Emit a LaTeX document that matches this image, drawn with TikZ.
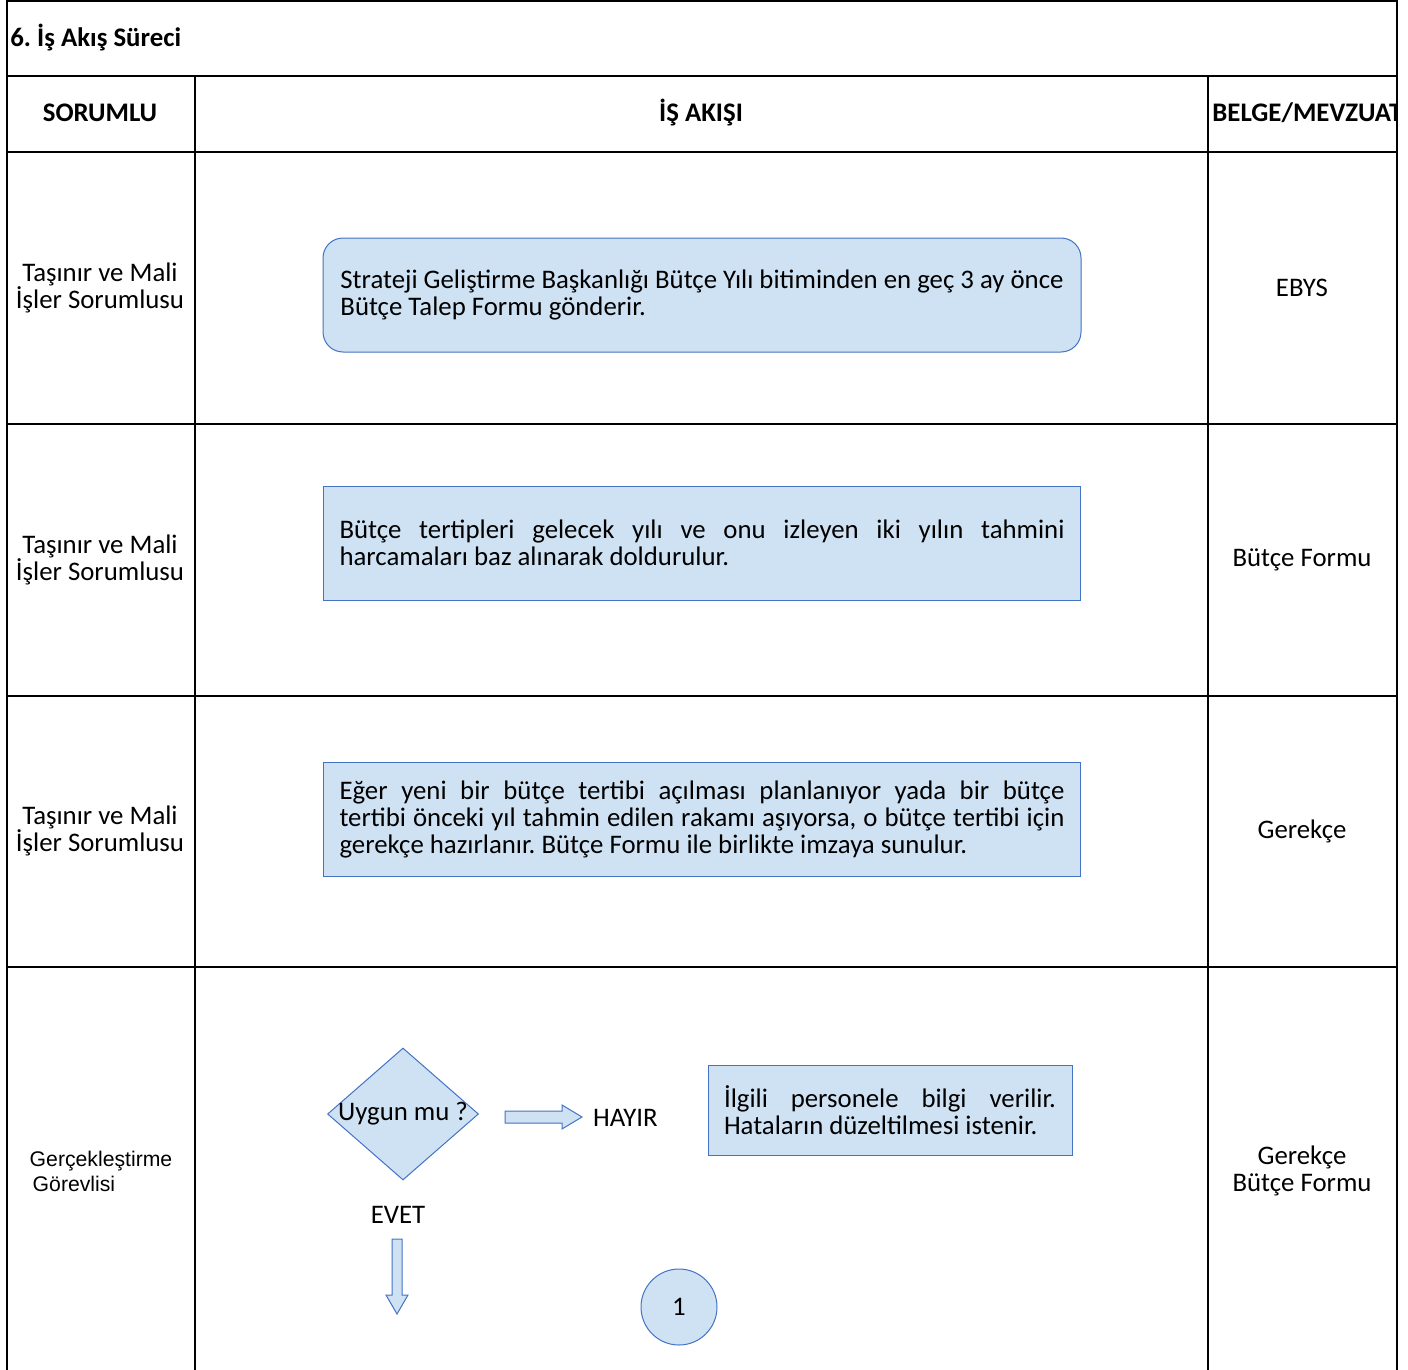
\documentclass[tikz,border=0pt]{standalone}
\usepackage{fontspec}
\setmainfont{Carlito}
\newfontfamily\arialfont{Liberation Sans}
\usetikzlibrary{shapes.geometric}
\definecolor{kutumavi}{RGB}{207,226,243}
\definecolor{cizgimavi}{RGB}{68,114,196}
\hyphenpenalty=10000
\exhyphenpenalty=10000
\frenchspacing

\begin{document}
\begin{tikzpicture}[x=0.5pt, y=-0.5pt,
  every node/.style={font=\fontsize{13.4}{13.5}\selectfont},
  tablo/.style={line width=1pt},
  baslik/.style={font=\fontsize{13.4}{13.5}\selectfont\bfseries},
  kutu/.style={draw=cizgimavi, fill=kutumavi, line width=0.5pt, inner xsep=8pt,
    minimum height=57pt, text width=362.5pt, align=justify},
  blokok/.style={draw=cizgimavi, fill=kutumavi, line width=0.5pt}]

  \useasboundingbox (0, 0) rectangle (1408, 1370);

  % tablo
  \draw[tablo] (7, 1370) -- (7, 1) -- (1397, 1) -- (1397, 1370);
  \foreach \yy in {76, 152, 424, 696, 967} {
    \draw[tablo] (7, \yy) -- (1397, \yy);
  }
  \foreach \xx in {195, 1208} {
    \draw[tablo] (\xx, 76) -- (\xx, 1370);
  }

  \node[baslik, anchor=west, inner xsep=1pt] (baslik) at (8, 38) {6. İş Akış Süreci};
  \node[baslik] (sorumlu) at (100, 113) {SORUMLU};
  \node[baslik] (isakisi) at (701, 113) {İŞ AKIŞI};
  \begin{scope}
    \clip (1208, 76) rectangle (1397, 152);
    \node[baslik, anchor=west, inner xsep=2pt] (belge) at (1208, 113) {BELGE/MEVZUAT};
  \end{scope}

  % sorumlu sutunu
  \node[align=center] (sor1) at (100, 288) {Taşınır ve Mali\\İşler Sorumlusu};
  \node[align=center] (sor2) at (100, 560) {Taşınır ve Mali\\İşler Sorumlusu};
  \node[align=center] (sor3) at (100, 831) {Taşınır ve Mali\\İşler Sorumlusu};
  \node[align=left, font=\arialfont\fontsize{10.6}{12.5}\selectfont] (sor4) at (101, 1171)
    {Gerçekleştirme\\\hspace*{1.5pt}Görevlisi};

  % is akisi
  \node[kutu, text width=, minimum width=379pt, align=left, rounded corners=10pt] (talep) at (702, 295)
    {Strateji Geliştirme Başkanlığı Bütçe Yılı bitiminden en geç 3 ay önce\\Bütçe Talep Formu gönderir.};
  \node[kutu] (tertip) at (702, 543)
    {Bütçe tertipleri gelecek yılı ve onu izleyen iki yılın tahmini\linebreak harcamaları baz alınarak doldurulur.};
  \node[kutu] (gerekce) at (702, 819)
    {Eğer yeni bir bütçe tertibi açılması planlanıyor yada bir bütçe\linebreak tertibi önceki yıl tahmin edilen rakamı aşıyorsa, o bütçe tertibi için\linebreak gerekçe hazırlanır. Bütçe Formu ile birlikte imzaya sunulur.};

  \node[diamond, draw=cizgimavi, fill=kutumavi, line width=0.5pt, inner sep=0pt,
    minimum width=75.5pt, minimum height=66pt] (uygun) at (403, 1114)
    {\makebox[0pt]{Uygun mu ?}};
  \draw[blokok] (505, 1111) -- (562, 1111) -- (562, 1105) -- (582, 1117)
    -- (562, 1129) -- (562, 1123) -- (505, 1123) -- cycle;
  \node[anchor=west] (hayir) at (586, 1118) {HAYIR};
  \node[kutu, text width=166pt, minimum height=45pt] (bilgi) at (890, 1110)
    {İlgili personele bilgi verilir.\linebreak Hataların düzeltilmesi istenir.};
  \node (evet) at (398, 1215) {EVET};
  \draw[blokok] (392, 1239) -- (402, 1239) -- (402, 1295) -- (408, 1295)
    -- (397, 1314) -- (386, 1295) -- (392, 1295) -- cycle;
  \node[circle, draw=cizgimavi, fill=kutumavi, line width=0.5pt, minimum size=38pt] (bir) at (679, 1307) {1};

  % belge sutunu
  \node (belge1) at (1302, 288) {EBYS};
  \node (belge2) at (1302, 560) {Bütçe Formu};
  \node (belge3) at (1302, 831) {Gerekçe};
  \node[align=center] (belge4) at (1302, 1171) {Gerekçe\\Bütçe Formu};

\end{tikzpicture}
\end{document}
